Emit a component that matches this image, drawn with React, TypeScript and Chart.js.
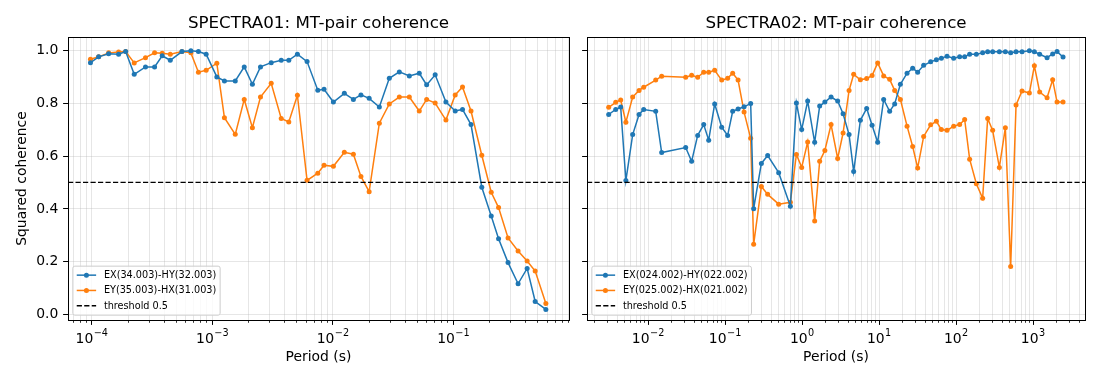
import React, { useEffect, useRef } from "react";
import { Chart, registerables } from "chart.js";

Chart.register(...registerables);

const FONT = '"DejaVu Sans", "Liberation Sans", sans-serif';
const BLUE = "#1f77b4";
const ORANGE = "#ff7f0e";

// ---- SPECTRA01: periods (s) and squared coherence of the two MT pairs ----
const periods01 = [
  9.75e-5, 1.14e-4, 1.38e-4, 1.67e-4, 1.91e-4, 2.25e-4, 2.79e-4, 3.32e-4, 3.84e-4, 4.48e-4,
  5.6e-4, 6.64e-4, 7.67e-4, 8.89e-4, 1.09e-3, 1.26e-3, 1.55e-3, 1.84e-3, 2.15e-3, 2.51e-3,
  3.08e-3, 3.73e-3, 4.31e-3, 5.08e-3, 6.11e-3, 7.5e-3, 8.45e-3, 1.01e-2, 1.245e-2, 1.48e-2,
  1.71e-2, 2.0e-2, 2.43e-2, 2.94e-2, 3.56e-2, 4.31e-2, 5.21e-2, 6.0e-2, 7.06e-2, 8.67e-2,
  0.1035, 0.119, 0.14, 0.172, 0.206, 0.237, 0.284, 0.344, 0.409, 0.477, 0.585,
];
const exhy01 = [
  0.953, 0.975, 0.987, 0.985, 0.995, 0.909, 0.937, 0.937, 0.979, 0.962,
  0.995, 0.998, 0.995, 0.985, 0.899, 0.884, 0.884, 0.937, 0.871, 0.937,
  0.953, 0.962, 0.962, 0.985, 0.957, 0.849, 0.852, 0.804, 0.837, 0.814,
  0.831, 0.818, 0.785, 0.894, 0.918, 0.903, 0.913, 0.869, 0.907, 0.804,
  0.77, 0.776, 0.719, 0.482, 0.373, 0.287, 0.197, 0.117, 0.175, 0.05, 0.02,
];
const eyhx01 = [
  0.966, 0.975, 0.99, 0.993, 0.995, 0.952, 0.972, 0.99, 0.989, 0.985,
  0.995, 0.99, 0.917, 0.924, 0.951, 0.745, 0.682, 0.814, 0.707, 0.823,
  0.875, 0.742, 0.729, 0.83, 0.508, 0.535, 0.565, 0.561, 0.614, 0.607,
  0.523, 0.465, 0.724, 0.797, 0.823, 0.823, 0.77, 0.814, 0.8, 0.736,
  0.831, 0.861, 0.77, 0.603, 0.463, 0.405, 0.29, 0.241, 0.203, 0.165, 0.042,
];
const legend01 = ["EX(34.003)-HY(32.003)", "EY(35.003)-HX(31.003)", "threshold 0.5"];

// ---- SPECTRA02 ----
const periods02 = [
  3.08e-3, 3.8e-3, 4.41e-3, 5.15e-3, 6.31e-3, 7.64e-3, 8.77e-3, 1.256e-2, 1.502e-2, 3.08e-2,
  3.68e-2, 4.41e-2, 5.28e-2, 6.13e-2, 7.33e-2, 9.04e-2, 0.108, 0.1256, 0.1476, 0.1766,
  0.2151, 0.2352, 0.2962, 0.3577, 0.497, 0.705, 0.844, 0.989, 1.183, 1.458,
  1.693, 1.978, 2.381, 2.901, 3.41, 4.08, 4.681, 5.72, 6.907, 8.116,
  9.594, 11.48, 13.73, 15.95, 18.92, 23.11, 27.33, 31.73, 37.97, 46.81,
  55.52, 64.46, 76.43, 93.11, 111.4, 129.4, 150.2, 183.5, 221.6, 257.4,
  298.9, 365.2, 437.0, 512.1, 601.6, 720.1, 895.9, 1040, 1219, 1521,
  1798, 2051, 2454,
];
const exhy02 = [
  0.757, 0.776, 0.785, 0.507, 0.681, 0.757, 0.776, 0.769, 0.613, 0.632,
  0.58, 0.678, 0.719, 0.66, 0.797, 0.709, 0.678, 0.769, 0.778, 0.786,
  0.799, 0.401, 0.572, 0.602, 0.537, 0.41, 0.8, 0.7, 0.808, 0.652,
  0.789, 0.804, 0.823, 0.808, 0.76, 0.681, 0.541, 0.735, 0.78, 0.716,
  0.652, 0.814, 0.769, 0.797, 0.871, 0.913, 0.932, 0.917, 0.943, 0.956,
  0.964, 0.97, 0.977, 0.97, 0.975, 0.975, 0.985, 0.985, 0.99, 0.994,
  0.994, 0.994, 0.994, 0.99, 0.994, 0.994, 0.998, 0.994, 0.985, 0.972,
  0.986, 0.995, 0.974,
];
const eyhx02 = [
  0.784, 0.803, 0.812, 0.728, 0.823, 0.848, 0.86, 0.887, 0.902, 0.898,
  0.905, 0.898, 0.917, 0.917, 0.924, 0.887, 0.894, 0.913, 0.887, 0.766,
  0.667, 0.266, 0.485, 0.455, 0.418, 0.425, 0.606, 0.557, 0.653, 0.354,
  0.58, 0.621, 0.719, 0.591, 0.687, 0.848, 0.909, 0.888, 0.893, 0.904,
  0.952, 0.903, 0.89, 0.848, 0.814, 0.713, 0.636, 0.555, 0.674, 0.718,
  0.731, 0.7, 0.697, 0.713, 0.719, 0.738, 0.588, 0.495, 0.44, 0.742,
  0.697, 0.557, 0.707, 0.182, 0.793, 0.846, 0.838, 0.941, 0.842, 0.82,
  0.888, 0.804, 0.804,
];
const legend02 = ["EX(024.002)-HY(022.002)", "EY(025.002)-HX(021.002)", "threshold 0.5"];

const THRESHOLD = 0.5;
const Y_TICKS = [0, 0.2, 0.4, 0.6, 0.8, 1.0];
const Y_LIMITS = [-0.02, 1.05];
const X_LIMITS_01 = [6.35e-5, 0.91];
const X_LIMITS_02 = [1.61e-3, 4730];

const HEIGHT = 380;
const PLOT_TOP = 37;
const PLOT_BOTTOM = 320;

type PanelSpec = {
  key: string;
  title: string;
  periods: number[];
  exhy: number[];
  eyhx: number[];
  legend: string[];
  xLimits: number[];
  canvasLeft: number;
  canvasWidth: number;
  plotLeft: number; // page coordinates
  plotRight: number;
  showYLabels: boolean;
};

const panels: PanelSpec[] = [
  {
    key: "s01",
    title: "SPECTRA01: MT-pair coherence",
    periods: periods01,
    exhy: exhy01,
    eyhx: eyhx01,
    legend: legend01,
    xLimits: X_LIMITS_01,
    canvasLeft: 0,
    canvasWidth: 578,
    plotLeft: 68,
    plotRight: 569,
    showYLabels: true,
  },
  {
    key: "s02",
    title: "SPECTRA02: MT-pair coherence",
    periods: periods02,
    exhy: exhy02,
    eyhx: eyhx02,
    legend: legend02,
    xLimits: X_LIMITS_02,
    canvasLeft: 578,
    canvasWidth: 522,
    plotLeft: 587,
    plotRight: 1085,
    showYLabels: false,
  },
];

// log-axis ticks: 1..9 x 10^n inside the limits, powers of ten flagged as major
function logTicks(min: number, max: number) {
  const ticks: { value: number; major: boolean }[] = [];
  const e0 = Math.floor(Math.log10(min));
  const e1 = Math.ceil(Math.log10(max));
  for (let e = e0; e <= e1; e++) {
    for (let k = 1; k <= 9; k++) {
      const v = parseFloat((k * Math.pow(10, e)).toPrecision(12));
      if (v >= min && v <= max) ticks.push({ value: v, major: k === 1 });
    }
  }
  return ticks;
}

const align = (p: number) => Math.round(p - 0.5) + 0.5;

function decorations(spec: PanelSpec) {
  return {
    id: "decor-" + spec.key,
    afterDatasetsDraw(chart: any) {
      const { ctx, chartArea: a, scales } = chart;
      const y = scales.y;
      // threshold line across the axes
      ctx.save();
      ctx.beginPath();
      ctx.rect(a.left, a.top, a.right - a.left, a.bottom - a.top);
      ctx.clip();
      const ty = y.getPixelForValue(THRESHOLD);
      ctx.strokeStyle = "#000";
      ctx.lineWidth = 1.3;
      ctx.setLineDash([5.2, 2.3]);
      ctx.beginPath();
      ctx.moveTo(a.left, ty);
      ctx.lineTo(a.right, ty);
      ctx.stroke();
      ctx.restore();

      // legend, lower left
      const fs = 9.7;
      ctx.save();
      ctx.font = `${fs}px ${FONT}`;
      const textW = Math.max(...spec.legend.map((t) => ctx.measureText(t).width));
      const pad = 0.4 * fs;
      const handle = 2 * fs;
      const gap = 0.8 * fs;
      const bx = a.left + 0.5 * fs;
      const bBottom = a.bottom - 0.5 * fs;
      const bh = 49;
      const by = bBottom - bh;
      const bw = pad + handle + gap + textW + pad;
      const r = 2;
      ctx.beginPath();
      ctx.moveTo(bx + r, by);
      ctx.lineTo(bx + bw - r, by);
      ctx.arcTo(bx + bw, by, bx + bw, by + r, r);
      ctx.lineTo(bx + bw, by + bh - r);
      ctx.arcTo(bx + bw, by + bh, bx + bw - r, by + bh, r);
      ctx.lineTo(bx + r, by + bh);
      ctx.arcTo(bx, by + bh, bx, by + bh - r, r);
      ctx.lineTo(bx, by + r);
      ctx.arcTo(bx, by, bx + r, by, r);
      ctx.closePath();
      ctx.fillStyle = "rgba(255,255,255,0.8)";
      ctx.fill();
      ctx.strokeStyle = "#cccccc";
      ctx.lineWidth = 1;
      ctx.stroke();

      const colors = [BLUE, ORANGE, "#000"];
      spec.legend.forEach((label, i) => {
        const ry = by + 9 + i * 15.3;
        const hx0 = bx + pad;
        const hx1 = hx0 + handle;
        ctx.strokeStyle = colors[i];
        ctx.lineWidth = i === 2 ? 1.3 : 1.5;
        ctx.setLineDash(i === 2 ? [5.2, 2.3] : []);
        ctx.beginPath();
        ctx.moveTo(hx0, ry);
        ctx.lineTo(hx1, ry);
        ctx.stroke();
        ctx.setLineDash([]);
        if (i < 2) {
          ctx.fillStyle = colors[i];
          ctx.beginPath();
          ctx.arc((hx0 + hx1) / 2, ry, 2.5, 0, Math.PI * 2);
          ctx.fill();
        }
        ctx.fillStyle = "#000";
        ctx.textAlign = "left";
        ctx.textBaseline = "middle";
        ctx.fillText(label, hx1 + gap, ry + 0.5);
      });
      ctx.restore();
    },
    afterDraw(chart: any) {
      const { ctx, chartArea: a, scales } = chart;
      const x = scales.x;
      const y = scales.y;
      ctx.save();
      // axes frame
      ctx.strokeStyle = "#000";
      ctx.lineWidth = 1;
      ctx.strokeRect(align(a.left), align(a.top), Math.round(a.right - a.left), Math.round(a.bottom - a.top));

      // x tick marks
      x.ticks.forEach((t: any) => {
        const px = align(x.getPixelForValue(t.value));
        ctx.lineWidth = t.major ? 1 : 0.8;
        ctx.beginPath();
        ctx.moveTo(px, a.bottom);
        ctx.lineTo(px, a.bottom + (t.major ? 4.9 : 2.8));
        ctx.stroke();
      });
      // y tick marks
      ctx.lineWidth = 1;
      y.ticks.forEach((t: any) => {
        const py = align(y.getPixelForValue(t.value));
        ctx.beginPath();
        ctx.moveTo(a.left, py);
        ctx.lineTo(a.left - 4.9, py);
        ctx.stroke();
      });

      // x tick labels: 10 with a raised exponent
      ctx.fillStyle = "#000";
      ctx.textBaseline = "alphabetic";
      ctx.textAlign = "left";
      x.ticks
        .filter((t: any) => t.major)
        .forEach((t: any) => {
          const e = Math.round(Math.log10(t.value));
          const expText = (e < 0 ? "\u2212" : "") + String(Math.abs(e));
          ctx.font = `13.9px ${FONT}`;
          const wBase = ctx.measureText("10").width;
          ctx.font = `9.7px ${FONT}`;
          const wExp = ctx.measureText(expText).width;
          const px = x.getPixelForValue(t.value);
          const x0 = px - (wBase + wExp + 0.5) / 2;
          ctx.font = `13.9px ${FONT}`;
          ctx.fillText("10", x0, 343);
          ctx.font = `9.7px ${FONT}`;
          ctx.fillText(expText, x0 + wBase + 0.5, 336);
        });

      // axis labels and title
      ctx.textAlign = "center";
      ctx.font = `13.9px ${FONT}`;
      const cx = (a.left + a.right) / 2;
      ctx.fillText("Period (s)", cx, 361);
      ctx.font = `16.7px ${FONT}`;
      ctx.fillText(spec.title, cx, 28);
      if (spec.showYLabels) {
        ctx.save();
        ctx.font = `13.9px ${FONT}`;
        ctx.translate(26, (a.top + a.bottom) / 2);
        ctx.rotate(-Math.PI / 2);
        ctx.textBaseline = "alphabetic";
        ctx.fillText("Squared coherence", 0, 0);
        ctx.restore();
      }
      ctx.restore();
    },
  };
}

function buildConfig(spec: PanelSpec): any {
  const local = (v: number) => v - spec.canvasLeft;
  const yWidth = local(spec.plotLeft);
  const rightPad = spec.canvasWidth - local(spec.plotRight);
  const gridColor = "rgba(176,176,176,0.32)";
  const series = [
    { label: spec.legend[0], values: spec.exhy, color: BLUE },
    { label: spec.legend[1], values: spec.eyhx, color: ORANGE },
  ];
  return {
    type: "line",
    data: {
      datasets: series.map((s) => ({
        label: s.label,
        data: spec.periods.map((p, i) => ({ x: p, y: s.values[i] })),
        borderColor: s.color,
        backgroundColor: s.color,
        pointBackgroundColor: s.color,
        pointBorderWidth: 0,
        pointRadius: 2.5,
        pointHoverRadius: 2.5,
        borderWidth: 1.5,
        tension: 0,
        fill: false,
      })),
    },
    options: {
      animation: false,
      responsive: false,
      maintainAspectRatio: false,
      events: [],
      layout: { padding: { left: 0, right: rightPad, top: PLOT_TOP, bottom: 0 } },
      plugins: {
        legend: { display: false },
        tooltip: { enabled: false },
        title: { display: false },
      },
      scales: {
        x: {
          type: "logarithmic",
          min: spec.xLimits[0],
          max: spec.xLimits[1],
          bounds: "data",
          afterBuildTicks: (s: any) => {
            s.ticks = logTicks(spec.xLimits[0], spec.xLimits[1]);
          },
          afterFit: (s: any) => {
            s.height = HEIGHT - PLOT_BOTTOM;
          },
          ticks: { display: false },
          grid: { color: gridColor, lineWidth: 1, drawTicks: false },
          border: { display: false },
        },
        y: {
          type: "linear",
          min: Y_LIMITS[0],
          max: Y_LIMITS[1],
          afterBuildTicks: (s: any) => {
            s.ticks = Y_TICKS.map((v) => ({ value: v }));
          },
          afterFit: (s: any) => {
            s.width = yWidth;
          },
          ticks: {
            display: spec.showYLabels,
            padding: 9.7,
            color: "#000",
            font: { family: FONT, size: 13.9 },
            callback: (v: any) => Number(v).toFixed(1),
          },
          grid: { color: gridColor, lineWidth: 1, drawTicks: false },
          border: { display: false },
        },
      },
    },
    plugins: [decorations(spec)],
  };
}

function Panel({ spec }: { spec: PanelSpec }) {
  const ref = useRef<HTMLCanvasElement>(null);
  useEffect(() => {
    const chart = new Chart(ref.current as HTMLCanvasElement, buildConfig(spec));
    return () => chart.destroy();
  }, [spec]);
  return (
    <canvas
      ref={ref}
      width={spec.canvasWidth}
      height={HEIGHT}
      style={{
        position: "absolute",
        left: spec.canvasLeft,
        top: 0,
        width: spec.canvasWidth,
        height: HEIGHT,
      }}
    />
  );
}

export default function App() {
  return (
    <div
      style={{
        position: "fixed",
        left: 0,
        top: 0,
        width: 1100,
        height: HEIGHT,
        background: "#ffffff",
        overflow: "hidden",
      }}
    >
      {panels.map((p) => (
        <Panel key={p.key} spec={p} />
      ))}
    </div>
  );
}
